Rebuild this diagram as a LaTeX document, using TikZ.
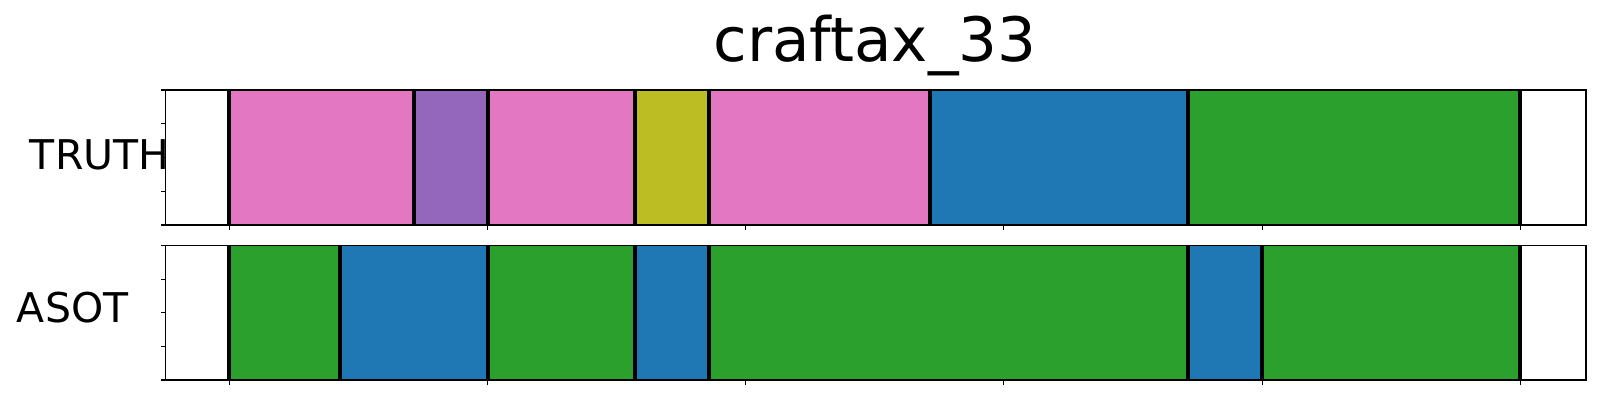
\documentclass[tikz,border=0pt]{standalone}
\usepackage{fontspec}
\setmainfont{DejaVu Sans}
\usepackage{xcolor}
\usetikzlibrary{positioning}

\definecolor{segpink}{HTML}{E377C2}
\definecolor{segpurple}{HTML}{9467BD}
\definecolor{segolive}{HTML}{BCBD22}
\definecolor{segblue}{HTML}{1F77B4}
\definecolor{seggreen}{HTML}{2CA02C}

\tikzset{
  frame/.style={draw=black, line width=0.38pt},
  bound/.style={draw=black, line width=1pt},
  tick/.style={draw=black, line width=0.3pt},
  rowlabel/.style={inner sep=0pt, font=\fontsize{11.65}{13}\selectfont},
}

\begin{document}
\begin{tikzpicture}[x=0.01cm, y=-0.01cm]
  \useasboundingbox (0,0) rectangle (1600,400);
  \node(title) [inner sep=0pt, anchor=base, font=\fontsize{17.4}{20}\selectfont] at (875,61.7) {craftax\_33};
  \node(truth) [rowlabel, anchor=base east] at (170,169.3) {TRUTH};
  \node(asot) [rowlabel, anchor=base east] at (129,322.7) {ASOT};

  % truth row
  \fill[segpink] (229,90) rectangle (414,225);
  \fill[segpurple] (414,90) rectangle (488,225);
  \fill[segpink] (488,90) rectangle (635,225);
  \fill[segolive] (635,90) rectangle (709,225);
  \fill[segpink] (709,90) rectangle (930,225);
  \fill[segblue] (930,90) rectangle (1188,225);
  \fill[seggreen] (1188,90) rectangle (1520,225);

  % asot row
  \fill[seggreen] (229,245.7) rectangle (340,380);
  \fill[segblue] (340,245.7) rectangle (488,380);
  \fill[seggreen] (488,245.7) rectangle (635,380);
  \fill[segblue] (635,245.7) rectangle (709,380);
  \fill[seggreen] (709,245.7) rectangle (1188,380);
  \fill[segblue] (1188,245.7) rectangle (1262,380);
  \fill[seggreen] (1262,245.7) rectangle (1520,380);

  \draw[frame] (165.7,90) rectangle (1586,225);
  \draw[frame] (165.7,245.7) rectangle (1586,380);

  \foreach \x in {229,414,488,635,709,930,1188,1520}
    \draw[bound] (\x,90) -- (\x,225);
  \foreach \x in {229,340,488,635,709,1188,1262,1520}
    \draw[bound] (\x,245.7) -- (\x,380);

  % ticks
  \foreach \y in {90,123.75,157.5,191.25,225}
    \draw[tick] (165.7,\y) -- ++(-5,0);
  \foreach \y in {245.7,279.3,312.85,346.4,380}
    \draw[tick] (165.7,\y) -- ++(-5,0);
  \foreach \k in {0,...,5} {
    \draw[tick] (229.3+258.2*\k,225) -- ++(0,4.5);
    \draw[tick] (229.3+258.2*\k,380) -- ++(0,4.5);
  }
\end{tikzpicture}
\end{document}
